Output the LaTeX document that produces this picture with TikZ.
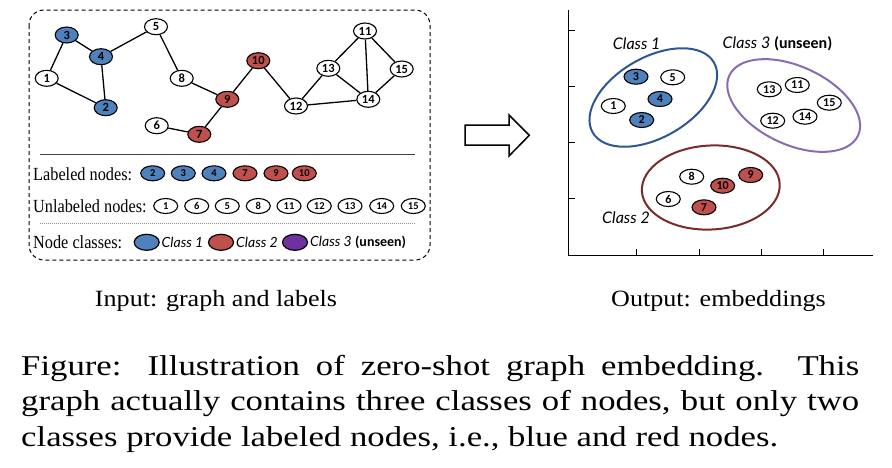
\documentclass[tikz,border=0pt]{standalone}
\usepackage{fontspec}
\setmainfont{Liberation Serif}
\newfontfamily\numfont{Carlito}
\newfontfamily\comicfont{Lato}
\newfontfamily\legfont[FakeStretch=0.88]{Liberation Serif}
\newfontfamily\subfont[FakeStretch=1.12]{Liberation Serif}
\newfontfamily\capfont[FakeStretch=1.21]{Liberation Serif}
\usetikzlibrary{shapes.geometric}
\definecolor{cblue}{HTML}{4F81BD}
\definecolor{cred}{HTML}{C0504D}
\definecolor{cpurple}{HTML}{7030A0}
\definecolor{oblue}{HTML}{2F5597}
\definecolor{opurple}{HTML}{8B6BB0}
\definecolor{ored}{HTML}{7A2A2A}
\begin{document}
\begin{tikzpicture}[x=1pt,y=-1pt,
  gn/.style={ellipse, draw, line width=1.1pt, minimum width=23pt, minimum height=16pt, inner sep=0pt, fill=white, font=\numfont\bfseries\fontsize{12.5}{13}\selectfont},
  pn/.style={gn, minimum width=24pt, minimum height=15pt, font=\numfont\bfseries\fontsize{12}{13}\selectfont},
  ln/.style={gn, minimum width=24pt, minimum height=15pt, font=\numfont\bfseries\fontsize{10.5}{11}\selectfont},
  nb/.style={fill=cblue},
  nr/.style={fill=cred},
  edge/.style={line width=1.3pt},
  legtext/.style={anchor=west, inner sep=0pt, font=\legfont\fontsize{18.5}{20}\selectfont},
  classbox/.style={ellipse, draw, line width=1.2pt, minimum width=25pt, minimum height=16pt, inner sep=0pt},
  classtext/.style={anchor=west, inner sep=0pt, font=\comicfont\itshape\fontsize{14}{16}\selectfont},
  plotlabel/.style={inner sep=0pt, font=\comicfont\itshape\fontsize{16}{18}\selectfont}
]
\useasboundingbox (0,0) rectangle (892,467);

% ---------- left panel frame ----------
\draw[line width=1pt, dash pattern=on 4pt off 3pt, rounded corners=15pt] (29,10) rectangle (430,260);

% ---------- graph ----------
\node[gn,nb] (g3) at (66.7,35) {3};
\node[gn,nb] (g4) at (101,56.7) {4};
\node[gn] (g1) at (46.7,78.3) {1};
\node[gn,nb] (g2) at (105.7,107.7) {2};
\node[gn] (g5) at (156,26.7) {5};
\node[gn] (g8) at (181.7,78.3) {8};
\node[gn,nr] (g9) at (227.3,99.3) {9};
\node[gn,nr] (g10) at (258.3,60.7) {10};
\node[gn] (g6) at (156.7,125.7) {6};
\node[gn,nr] (g7) at (199.3,134.3) {7};
\node[gn] (g12) at (296,106) {12};
\node[gn] (g13) at (328.3,68.3) {13};
\node[gn] (g11) at (365,31) {11};
\node[gn] (g15) at (401.7,69) {15};
\node[gn] (g14) at (368.3,99.3) {14};

\draw[edge] (g3) -- (g1);
\draw[edge] (g3) -- (g4);
\draw[edge] (g4) -- (g2);
\draw[edge] (g1) -- (g2);
\draw[edge] (g4) -- (g5);
\draw[edge] (g5) -- (g8);
\draw[edge] (g8) -- (g9);
\draw[edge] (g9) -- (g10);
\draw[edge] (g9) -- (g7);
\draw[edge] (g6) -- (g7);
\draw[edge] (g10) -- (g12);
\draw[edge] (g12) -- (g13);
\draw[edge] (g12) -- (g14);
\draw[edge] (g13) -- (g11);
\draw[edge] (g13) -- (g14);
\draw[edge] (g11) -- (g14);
\draw[edge] (g11) -- (g15);
\draw[edge] (g15) -- (g14);

% ---------- legend ----------
\coordinate (s1) at (40,154.3);
\coordinate (s2) at (415,154.3);
\draw[line width=0.8pt, black!75] (s1) -- (s2);
\coordinate (d1) at (40,223.3);
\coordinate (d2) at (415,223.3);
\draw[line width=0.9pt, black!45, dash pattern=on 1pt off 1pt] (d1) -- (d2);

\node[legtext] (tl) at (33,174) {Labeled nodes:};
\node[ln,nb] (l2) at (152.7,173.3) {2};
\node[ln,nb] (l3) at (183.3,173.3) {3};
\node[ln,nb] (l4) at (214,173.3) {4};
\node[ln,nr] (l7) at (245,173.3) {7};
\node[ln,nr] (l9) at (276,173.3) {9};
\node[ln,nr] (l10) at (304.3,173.3) {10};

\node[legtext] (tu) at (33,206) {Unlabeled nodes:};
\node[ln] (u1) at (165.7,206) {1};
\node[ln] (u6) at (196.7,206) {6};
\node[ln] (u5) at (227.3,206) {5};
\node[ln] (u8) at (258.3,206) {8};
\node[ln] (u11) at (289,206) {11};
\node[ln] (u12) at (319.3,206) {12};
\node[ln] (u13) at (350,206) {13};
\node[ln] (u14) at (381.7,206) {14};
\node[ln] (u15) at (413.3,206) {15};

\node[legtext] (tc) at (33,242) {Node classes:};
\node[classbox, fill=cblue] (c1) at (146.7,242.3) {};
\node[classtext] (c1t) at (161.5,242.3) {Class 1};
\node[classbox, fill=cred] (c2) at (221,242.3) {};
\node[classtext] (c2t) at (236,242.3) {Class 2};
\node[classbox, fill=cpurple] (c3) at (295,242.3) {};
\node[classtext] (c3t) at (310,242.3) {Class 3 {\numfont\bfseries\upshape (unseen)}};

% ---------- arrow ----------
\draw[line width=1.5pt, line join=miter] (465,125) -- (509,125) -- (509,115) -- (529.3,135.3) -- (509,156) -- (509,145) -- (465,145) -- cycle;

% ---------- axes ----------
\draw[line width=1pt] (568.3,10) -- (568.3,255) -- (873.3,255);
\foreach \yy in {30,86.7,142.7,198.3} \draw[line width=0.6pt] (568.3,\yy) -- (575,\yy);
\foreach \xx in {636.7,699.3,761,823.3} \draw[line width=0.6pt] (\xx,255) -- (\xx,249);

% ---------- clusters ----------
\draw[oblue, line width=2pt, rotate around={30:(653.3,97.5)}] (653.3,97.5) ellipse [x radius=70pt, y radius=40pt];
\draw[opurple, line width=2pt, rotate around={-25:(793.7,105.5)}] (793.7,105.5) ellipse [x radius=71pt, y radius=39pt];
\draw[ored, line width=2pt, rotate around={3:(710.8,187.5)}] (710.8,187.5) ellipse [x radius=69pt, y radius=42pt];

\node[plotlabel] (k1) at (636.7,43.3) {Class 1};
\node[plotlabel] (k3) at (777.5,43.3) {Class 3 {\numfont\bfseries\upshape (unseen)}};
\node[plotlabel] (k2) at (626,217.3) {Class 2};

\node[pn,nb] (p3) at (636,76.7) {3};
\node[pn] (p5) at (672.7,77.3) {5};
\node[pn,nb] (p4) at (660,99) {4};
\node[pn] (p1) at (613.3,106) {1};
\node[pn,nb] (p2) at (641.7,120) {2};
\node[pn] (p13) at (769.3,89.3) {13};
\node[pn] (p11) at (797.3,85) {11};
\node[pn] (p15) at (829.3,102.7) {15};
\node[pn] (p14) at (805,116.7) {14};
\node[pn] (p12) at (772.7,120.7) {12};
\node[pn] (p8) at (691.7,176.7) {8};
\node[pn,nr] (p10) at (722.7,185.7) {10};
\node[pn,nr] (p9) at (750.7,175) {9};
\node[pn] (p6) at (668.3,199) {6};
\node[pn,nr] (p7) at (704,207.3) {7};

% ---------- captions ----------
\node[anchor=base, inner sep=0pt, font=\subfont\fontsize{23.3}{28}\selectfont] (in) at (216,306) {Input: graph and labels};
\node[anchor=base, inner sep=0pt, font=\subfont\fontsize{23.3}{28}\selectfont] (out) at (718.5,306) {Output: embeddings};

\node[anchor=base west, inner sep=0pt, text width=838pt, align=justify, font=\capfont\fontsize{28.7}{35.8}\selectfont] (cap) at (21,375)
{\noindent Figure: Illustration of zero-shot graph embedding. This\linebreak graph actually contains three classes of nodes, but only two\linebreak classes provide labeled nodes, i.e., blue and red nodes.};
\end{tikzpicture}
\end{document}
